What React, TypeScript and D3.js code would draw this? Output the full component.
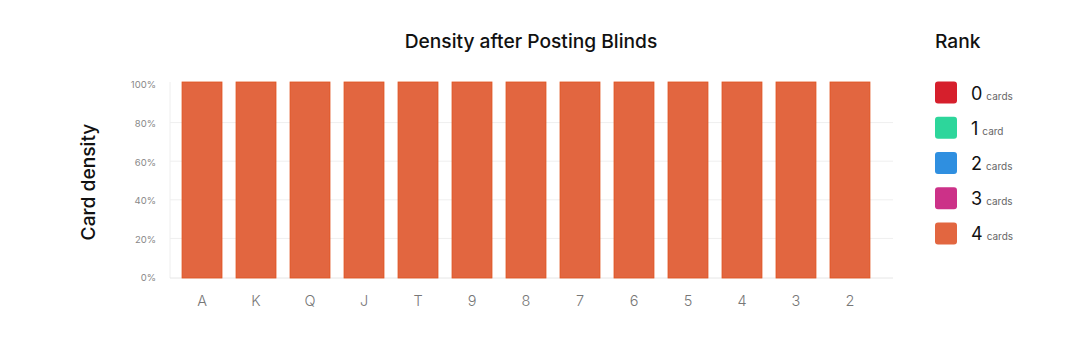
import React from "react";
import * as d3 from "d3";

const ranks = ["A", "K", "Q", "J", "T", "9", "8", "7", "6", "5", "4", "3", "2"];
const density = [1, 1, 1, 1, 1, 1, 1, 1, 1, 1, 1, 1, 1];
const yTicks = [0, 0.2, 0.4, 0.6, 0.8, 1.0];
const legendCounts = ["0", "1", "2", "3", "4"];
const legendUnits = ["cards", "card", "cards", "cards", "cards"];
const legendColors = ["#d61f2c", "#2dd69b", "#2f8fe0", "#cc3188", "#e26640"];

const FONT = "Inter, 'Noto Sans', sans-serif";

export default function App() {
  const W = 1088, H = 350;
  const x = d3.scaleBand<string>().domain(ranks).range([168, 884]).paddingInner(0.26).paddingOuter(0.26);
  const y = d3.scaleLinear().domain([0, 1]).range([277, 84]);
  const fmt = d3.format(".0%");
  const gridX0 = 170, gridX1 = 893;
  const legendY = d3.scaleBand<string>().domain(legendCounts).range([75, 251]);

  return (
    <svg width={W} height={H} style={{ position: "absolute", left: 0, top: 0, fontFamily: FONT }}>
      <rect width={W} height={H} fill="#fff" />
      <text x={531} y={48} textAnchor="middle" fontSize={19.2} fontWeight={550} fill="#111">
        Density after Posting Blinds
      </text>
      <text x={0} y={0} transform={`translate(95,182) rotate(-90)`} textAnchor="middle" fontSize={19.2} fontWeight={550} fill="#111">
        Card density
      </text>
      {yTicks.map((t) => (
        <g key={t}>
          {t > 0 && t < 1 && (
            <line x1={gridX0} x2={gridX1} y1={y(t)} y2={y(t)} stroke="#efefef" strokeWidth={1} />
          )}
          <text x={156} y={y(t) + 1} dy="0.35em" textAnchor="end" fontSize={9.5} fill="#888">
            {fmt(t)}
          </text>
        </g>
      ))}
      <line x1={gridX0} x2={gridX0} y1={82} y2={278} stroke="#eeeeee" />
      <line x1={gridX0} x2={gridX1} y1={278} y2={278} stroke="#e6e6e6" />
      {ranks.map((r, i) => (
        <g key={r}>
          <rect
            x={x(r)!}
            y={y(density[i]) - 2}
            width={x.bandwidth()}
            height={y(0) - y(density[i]) + 3}
            fill="#e26640"
            stroke="#e0531f"
            strokeWidth={0.8}
          />
          <text x={x(r)! + x.bandwidth() / 2} y={306} textAnchor="middle" fontSize={14.5} fontWeight={300} fill="#777">
            {r}
          </text>
        </g>
      ))}
      <text x={935} y={48} fontSize={19.2} fontWeight={550} fill="#111">
        Rank
      </text>
      {legendCounts.map((c, i) => {
        const cy = legendY(c)! + legendY.bandwidth() / 2;
        return (
          <g key={c}>
            <rect x={935} y={cy - 11} width={22} height={22} rx={3} fill={legendColors[i]} />
            <text x={971} y={cy + 7} fontSize={18} fill="#111">
              {c}
              <tspan dx={4} fontSize={10} fill="#666">{legendUnits[i]}</tspan>
            </text>
          </g>
        );
      })}
    </svg>
  );
}
